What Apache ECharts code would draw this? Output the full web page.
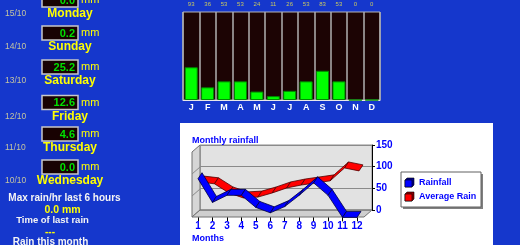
<!DOCTYPE html>
<html><head><meta charset="utf-8">
<script src="https://cdn.jsdelivr.net/npm/echarts@6/dist/echarts.min.js"></script>
<style>html,body{margin:0;padding:0;background:#1537cc;overflow:hidden}#c{width:520px;height:245px}</style>
</head><body><div id="c"></div>
<script>
// ---- data ----
const monthLetters = ['J','F','M','A','M','J','J','A','S','O','N','D'];
const monthNumbers = ['1','2','3','4','5','6','7','8','9','10','11','12'];
const monthRain = [93,36,53,53,24,11,26,53,83,53,0,0];
const averageRain = [80,76,54,42,44,54,66,73,78,83,114,107];
const dayDates = ['15/10','14/10','13/10','12/10','11/10','10/10'];
const dayNames = ['Monday','Sunday','Saturday','Friday','Thursday','Wednesday'];
const dayRain = ['0.0','0.2','25.2','12.6','4.6','0.0'];
const maxRainHr = '0.0 mm';
const lastRainTime = '---';

// ---- layout ----
const FONT = '"Liberation Sans", Arial, sans-serif';
const rowY = [14, 47, 81, 116.5, 148, 181];
const D = [4, -6];

const chart = echarts.init(document.getElementById('c'), null, {renderer:'canvas'});

const g = [];
// white panel
g.push({type:'rect', z:-3, shape:{x:180,y:123,width:313,height:130}, style:{fill:'#ffffff'}});
// 3D box walls
g.push({type:'rect', z:-2, shape:{x:200,y:145,width:172,height:65}, style:{fill:'#e2e2e2',stroke:'#8a8a8a',lineWidth:1}});
g.push({type:'polygon', z:-2, shape:{points:[[192,152],[200,145],[200,210],[192,217]]}, style:{fill:'#d6d6d6',stroke:'#707070',lineWidth:1}});
g.push({type:'polygon', z:-2, shape:{points:[[192,217],[200,210],[372,210],[364,217]]}, style:{fill:'#cfcfcf',stroke:'#707070',lineWidth:1}});
g.push({type:'polyline', z:-1, shape:{points:[[192,174],[200,167]]}, style:{stroke:'#8a8a8a',lineWidth:1}});
g.push({type:'polyline', z:-1, shape:{points:[[192,196],[200,189]]}, style:{stroke:'#8a8a8a',lineWidth:1}});

// left panel rows
dayNames.forEach((name, i) => {
  const y = rowY[i];
  const by = y - 14;
  g.push({type:'rect', z:5, shape:{x:42,y:by-7,width:36,height:14}, style:{fill:'#180202',stroke:'#c8c8c8',lineWidth:1.5}});
  g.push({type:'text', z:6, x:75, y:by+0.5, style:{text:dayRain[i], fill:'#00e000', font:'bold 11px '+FONT, textAlign:'right', textVerticalAlign:'middle'}});
  g.push({type:'text', z:6, x:81, y:by, style:{text:'mm', fill:'#ffff00', font:'11px '+FONT, textAlign:'left', textVerticalAlign:'middle'}});
  g.push({type:'text', z:6, x:5, y:y, style:{text:dayDates[i], fill:'#c4c4a0', font:'8.5px '+FONT, textAlign:'left', textVerticalAlign:'middle'}});
  g.push({type:'text', z:6, x:70, y:y, style:{text:name, fill:'#ffff00', font:'bold 12px '+FONT, textAlign:'center', textVerticalAlign:'middle'}});
});
g.push({type:'text', z:6, x:64.5, y:198, style:{text:'Max rain/hr last 6 hours', fill:'#f4f4f4', font:'bold 10px '+FONT, textAlign:'center', textVerticalAlign:'middle'}});
g.push({type:'text', z:6, x:62.5, y:210, style:{text:maxRainHr, fill:'#ffff00', font:'bold 10.5px '+FONT, textAlign:'center', textVerticalAlign:'middle'}});
g.push({type:'text', z:6, x:52.5, y:220.5, style:{text:'Time of last rain', fill:'#f4f4f4', font:'bold 9.5px '+FONT, textAlign:'center', textVerticalAlign:'middle'}});
g.push({type:'text', z:6, x:50, y:232, style:{text:lastRainTime, fill:'#ffff00', font:'bold 10px '+FONT, textAlign:'center', textVerticalAlign:'middle'}});
g.push({type:'text', z:6, x:50.5, y:242, style:{text:'Rain this month', fill:'#f4f4f4', font:'bold 10px '+FONT, textAlign:'center', textVerticalAlign:'middle'}});

// line chart titles
g.push({type:'text', z:6, x:192, y:141, style:{text:'Monthly rainfall', fill:'#0000ff', font:'bold 9px '+FONT, textAlign:'left', textVerticalAlign:'middle'}});
g.push({type:'text', z:6, x:192, y:238.5, style:{text:'Months', fill:'#0000ff', font:'bold 9px '+FONT, textAlign:'left', textVerticalAlign:'middle'}});

// legend box
g.push({type:'rect', z:5, shape:{x:403,y:174,width:80,height:35}, style:{fill:'#808080'}});
g.push({type:'rect', z:5, shape:{x:401,y:172,width:80,height:35}, style:{fill:'#ffffff',stroke:'#606060',lineWidth:1}});
function cube(x, y, front, back) {
  g.push({type:'polygon', z:6, shape:{points:[[x,y+2],[x+2,y],[x+9,y],[x+9,y+7],[x+7,y+9],[x,y+9]]}, style:{fill:back,stroke:'#000000',lineWidth:0.6}});
  g.push({type:'rect', z:6, shape:{x:x,y:y+2,width:7,height:7}, style:{fill:front,stroke:'#000000',lineWidth:0.6}});
}
cube(405, 178, '#0000ff', '#000090');
cube(405, 192, '#ff0000', '#900000');
g.push({type:'text', z:6, x:419, y:182.5, style:{text:'Rainfall', fill:'#0000ff', font:'bold 9px '+FONT, textAlign:'left', textVerticalAlign:'middle'}});
g.push({type:'text', z:6, x:419, y:196.5, style:{text:'Average Rain', fill:'#0000ff', font:'bold 9px '+FONT, textAlign:'left', textVerticalAlign:'middle'}});

function ribbon(name, values, color, edge, off) {
  return {
    type:'custom', name:name, xAxisIndex:2, yAxisIndex:1, z:3,
    data: values.map((v, i) => [i, v]),
    renderItem: function (params, api) {
      const i = params.dataIndex;
      if (i >= values.length - 1) return null;
      const a = api.coord([i, values[i]]);
      const b = api.coord([i + 1, values[i + 1]]);
      const ax = a[0] + off[0], ay = a[1] + off[1], bx = b[0] + off[0], by = b[1] + off[1];
      return {type:'polygon', shape:{points:[[ax,ay],[bx,by],[bx+D[0],by+D[1]],[ax+D[0],ay+D[1]]]},
        style:{fill:color, stroke:edge, lineWidth:0.8}};
    }
  };
}

chart.setOption({
  backgroundColor:'transparent',
  animation:false,
  textStyle:{fontFamily:FONT},
  graphic: g,
  grid:[
    {left:183, top:12, width:197, height:88, show:true, backgroundColor:'#1c0404', borderColor:'#b4b4b4', borderWidth:1, containLabel:false, outerBoundsMode:'none'},
    {left:198, top:155, width:159, height:62.4, containLabel:false, outerBoundsMode:'none'},
    {left:200, top:145, width:172, height:65, containLabel:false, outerBoundsMode:'none'}
  ],
  xAxis:[
    {gridIndex:0, type:'category', data:monthLetters, position:'bottom',
      axisLine:{show:true, lineStyle:{color:'#e8e8e8', width:1}}, axisTick:{show:false},
      axisLabel:{color:'#ffffff', fontWeight:'bold', fontSize:9, margin:3, interval:0},
      splitLine:{show:true, lineStyle:{color:'#b0b0b0', width:1.5}}},
    {gridIndex:0, type:'category', data:monthRain.map(String), position:'top',
      axisLine:{show:false}, axisTick:{show:false},
      axisLabel:{color:'#c8c860', fontSize:6, margin:5, interval:0}},
    {gridIndex:1, type:'category', data:monthNumbers, boundaryGap:false,
      axisLine:{show:false}, axisTick:{show:true, length:4, lineStyle:{color:'#000000'}},
      axisLabel:{color:'#0000ff', fontWeight:'bold', fontSize:10, margin:4, interval:0}},
    {gridIndex:2, type:'value', show:false, min:0, max:1}
  ],
  yAxis:[
    {gridIndex:0, type:'value', min:0, max:250, show:false},
    {gridIndex:1, type:'value', min:0, max:150, show:false},
    {gridIndex:2, type:'value', min:0, max:150, interval:50, position:'right',
      axisLine:{show:true, onZero:false, lineStyle:{color:'#000000'}}, axisTick:{show:true, length:3, lineStyle:{color:'#000000'}},
      axisLabel:{color:'#0000ff', fontWeight:'bold', fontSize:10, margin:4},
      splitLine:{show:true, lineStyle:{color:'#8a8a8a', width:1}}}
  ],
  series:[
    {type:'bar', name:'Monthly', xAxisIndex:0, yAxisIndex:0, data:monthRain, barWidth:13,
      itemStyle:{color:'#00ff00', borderColor:'#008800', borderWidth:1}},
    ribbon('Average Rain', averageRain, '#ff0000', '#500000', [2, -2]),
    ribbon('Rainfall', monthRain, '#0000ff', '#000040', [0, 0])
  ]
});
</script></body></html>
